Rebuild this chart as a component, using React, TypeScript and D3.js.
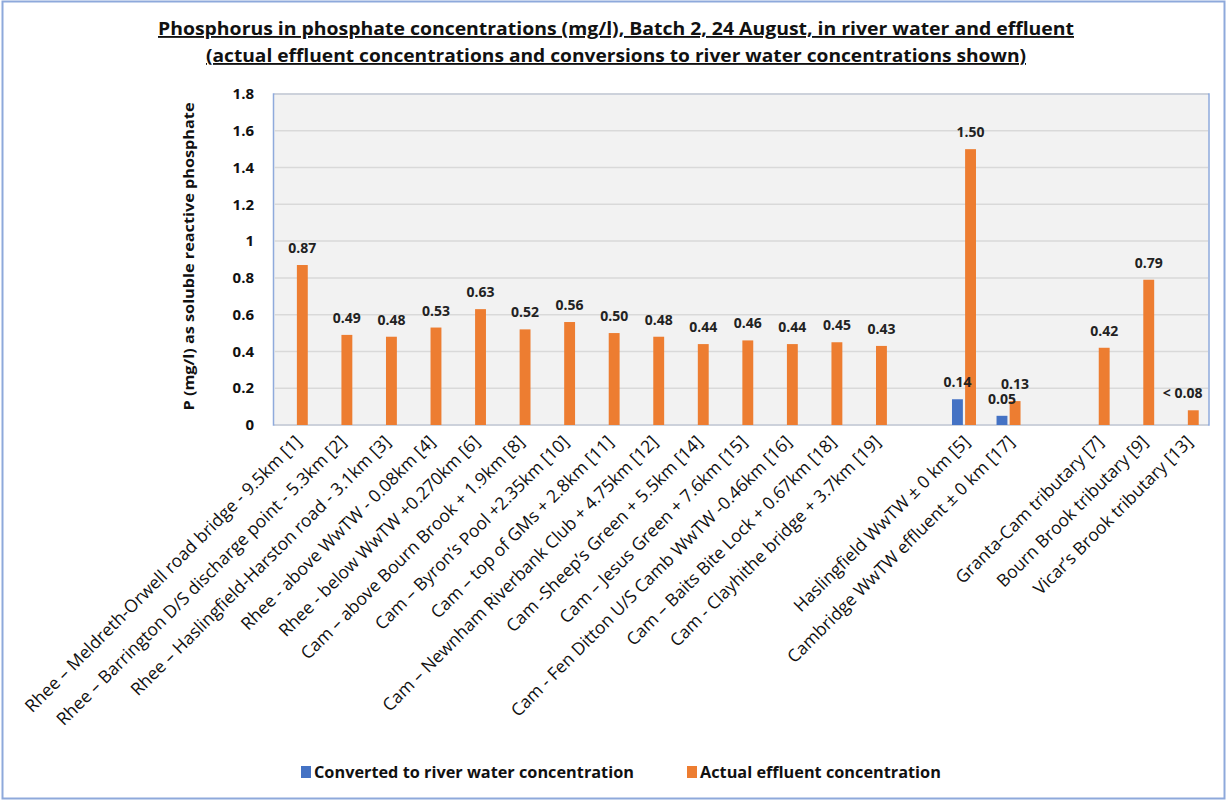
import React from "react";
import * as d3 from "d3";

const categories: string[] = [
  "Rhee – Meldreth-Orwell road bridge - 9.5km [1]",
  "Rhee – Barrington D/S discharge point - 5.3km [2]",
  "Rhee – Haslingfield-Harston road - 3.1km [3]",
  "Rhee - above WwTW - 0.08km [4]",
  "Rhee - below WwTW +0.270km [6]",
  "Cam – above Bourn Brook + 1.9km [8]",
  "Cam – Byron’s Pool +2.35km [10]",
  "Cam – top of GMs + 2.8km [11]",
  "Cam – Newnham Riverbank Club + 4.75km [12]",
  "Cam -Sheep’s Green + 5.5km [14]",
  "Cam – Jesus Green + 7.6km [15]",
  "Cam - Fen Ditton U/S Camb WwTW -0.46km [16]",
  "Cam – Baits Bite Lock + 0.67km [18]",
  "Cam - Clayhithe bridge + 3.7km [19]",
  "",
  "Haslingfield WwTW ± 0 km [5]",
  "Cambridge WwTW effluent ± 0 km  [17]",
  "",
  "Granta-Cam tributary [7]",
  "Bourn Brook tributary [9]",
  "Vicar’s Brook tributary [13]",
];

const converted: (number | null)[] = [
  null, null, null, null, null, null, null, null, null, null, null, null, null, null,
  null, 0.14, 0.05, null, null, null, null,
];

const effluent: (number | null)[] = [
  0.87, 0.49, 0.48, 0.53, 0.63, 0.52, 0.56, 0.5, 0.48, 0.44, 0.46, 0.44, 0.45, 0.43,
  null, 1.5, 0.13, null, 0.42, 0.79, 0.08,
];

const belowDetection: boolean[] = [
  false, false, false, false, false, false, false, false, false, false, false, false, false, false,
  false, false, false, false, false, false, true,
];

const yTicks: number[] = [0, 0.2, 0.4, 0.6, 0.8, 1, 1.2, 1.4, 1.6, 1.8];

const seriesNames: string[] = ["Converted to river water concentration", "Actual effluent concentration"];
const seriesColors: string[] = ["#4472C4", "#ED7D31"];

const titleLines: string[] = [
  "Phosphorus in phosphate concentrations (mg/l), Batch 2, 24 August, in river water and effluent",
  "(actual effluent concentrations and conversions to river water concentrations shown)",
];
const yTitle = "P (mg/l) as soluble reactive phosphate";

const W = 1226;
const H = 800;
const plot = { left: 273.5, right: 1209, top: 94, bottom: 425 };
const FONT = "'Open Sans', Lato, sans-serif";

export default function App() {
  const x = d3
    .scaleBand<number>()
    .domain(categories.map((_, i) => i))
    .range([plot.left, plot.right])
    .paddingInner(0)
    .paddingOuter(0);
  const xs = d3.scaleBand<number>().domain([0, 1]).range([-12, 12]).paddingInner(0.17).paddingOuter(0);
  const y = d3.scaleLinear().domain([0, 1.8]).range([plot.bottom, plot.top]);
  const fmt = d3.format(".2f");

  const series = [converted, effluent];
  const titleWidths = [916, 820];

  return (
    <svg
      width={W}
      height={H}
      style={{ position: "absolute", left: 0, top: 0, background: "#fff" }}
      fontFamily={FONT}
    >
      <rect x={2.5} y={1.5} width={W - 4} height={H - 3} fill="#fff" stroke="#8EA9DB" strokeWidth={2} />

      {titleLines.map((t, i) => (
        <text
          key={i}
          x={616}
          y={35 + i * 27}
          textAnchor="middle"
          fontSize={18.5}
          fontWeight="bold"
          textDecoration="underline"
          fill="#111"
          textLength={titleWidths[i]}
          lengthAdjust="spacingAndGlyphs"
        >
          {t}
        </text>
      ))}

      <rect
        x={plot.left}
        y={plot.top}
        width={plot.right - plot.left}
        height={plot.bottom - plot.top}
        fill="#F2F2F2"
        stroke="#8FAADC"
        strokeWidth={1.5}
      />
      {yTicks.map((t) => (
        <line
          key={t}
          x1={plot.left + 1}
          x2={plot.right - 1}
          y1={y(t)}
          y2={y(t)}
          stroke="#D9D9D9"
          strokeWidth={1.5}
        />
      ))}
      {yTicks.map((t) => (
        <text
          key={"l" + t}
          x={254}
          y={y(t)}
          dy="0.35em"
          textAnchor="end"
          fontSize={15}
          fontWeight="bold"
          fill="#111"
        >
          {String(t)}
        </text>
      ))}
      <text
        transform={`translate(194, ${(plot.top + plot.bottom) / 2 - 3}) rotate(-90)`}
        textAnchor="middle"
        fontSize={15}
        fontWeight="bold"
        fill="#111"
        textLength={308}
        lengthAdjust="spacingAndGlyphs"
      >
        {yTitle}
      </text>

      {series.map((vals, s) =>
        vals.map((v, i) =>
          v == null ? null : (
            <rect
              key={`b${s}-${i}`}
              x={x(i)! + x.bandwidth() / 2 + xs(s)!}
              y={y(v)}
              width={xs.bandwidth()}
              height={plot.bottom - y(v)}
              fill={seriesColors[s]}
            />
          )
        )
      )}

      {series.map((vals, s) =>
        vals.map((v, i) => {
          if (v == null) return null;
          const cx = x(i)! + x.bandwidth() / 2 + xs(s)! + xs.bandwidth() / 2;
          const txt = (belowDetection[i] && s === 1 ? "< " : "") + fmt(v);
          const half = txt.length * 4.4;
          const lx = Math.min(cx, plot.right - half);
          return (
            <text
              key={`v${s}-${i}`}
              x={lx}
              y={y(v) - 12}
              textAnchor="middle"
              fontSize={14}
              fontWeight="bold"
              fill="#222"
            >
              {txt}
            </text>
          );
        })
      )}

      {categories.map((c, i) =>
        c ? (
          <text
            key={"c" + i}
            transform={`translate(${x(i)! + x.bandwidth() / 2 + 7}, ${plot.bottom + 18}) rotate(-45)`}
            textAnchor="end"
            fontSize={17.5}
            fill="#111"
          >
            {c}
          </text>
        ) : null
      )}

      {seriesNames.map((n, s) => {
        const lx = s === 0 ? 301 : 687;
        return (
          <g key={"lg" + s}>
            <rect x={lx} y={766} width={10} height={12} fill={seriesColors[s]} />
            <text x={lx + 13} y={778} fontSize={16.3} fontWeight="bold" fill="#111">
              {n}
            </text>
          </g>
        );
      })}
    </svg>
  );
}
